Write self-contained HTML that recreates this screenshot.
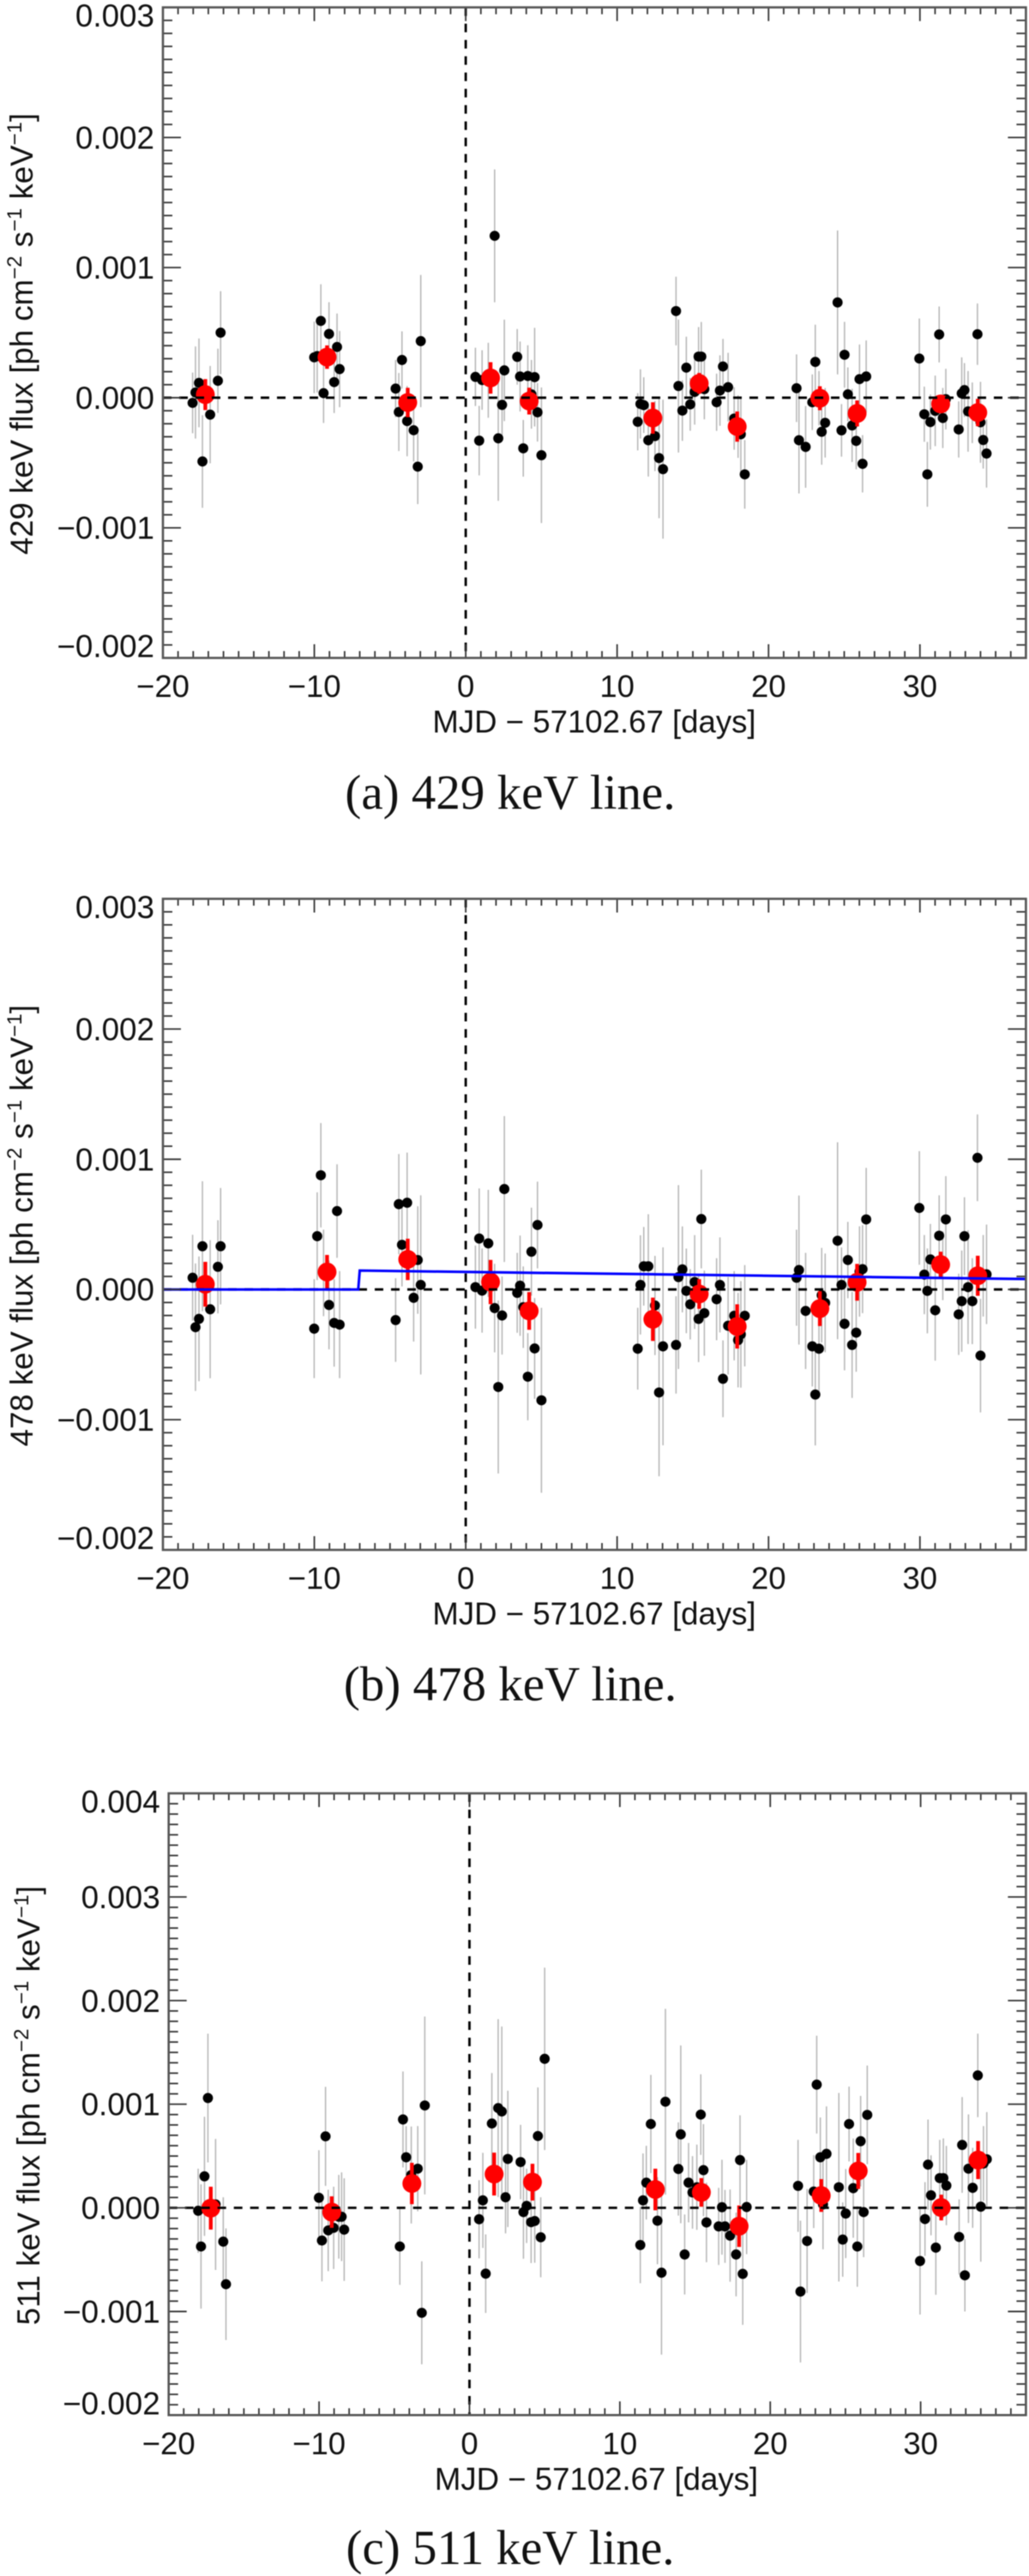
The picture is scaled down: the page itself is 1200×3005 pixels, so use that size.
<!DOCTYPE html>
<html lang="en">
<head>
<meta charset="utf-8">
<title>Gamma-ray line light curves</title>
<style>
html,body{margin:0;padding:0;background:#fff;}
svg{display:block;width:1200px;height:3005px;filter:blur(0.45px);}
text{font-family:"Liberation Sans",sans-serif;fill:#111;}
text.caption{font-family:"Liberation Serif",serif;}
</style>
</head>
<body>
<svg id="figure" xmlns="http://www.w3.org/2000/svg" width="1200" height="3005" viewBox="0 0 1200 3005"></svg>
<script>
// Observation times (days relative to MJD 57102.67), shared by all panels
const days = [
 -18.04,-17.85,-17.62,-17.39,-16.88,-16.37,-16.19,
 -10.01,-9.81,-9.57,-9.39,-9.03,-8.69,-8.50,-8.33,
 -4.63,-4.42,-4.21,-3.87,-3.44,-3.17,-2.97,
 0.64,0.89,1.08,1.49,1.91,2.15,2.40,2.55,3.40,3.59,3.80,4.10,4.34,4.55,4.74,5.00,
 11.36,11.54,11.76,12.06,12.50,12.77,13.03,13.89,14.05,14.31,14.57,14.83,15.12,15.38,15.56,15.76,16.57,16.79,16.99,17.33,17.73,17.99,18.17,18.43,
 21.85,22.01,22.45,22.89,23.09,23.33,23.51,23.74,24.56,24.82,25.02,25.24,25.52,25.79,26.01,26.21,26.45,
 29.96,30.29,30.49,30.69,31.01,31.27,31.51,31.71,32.56,32.76,32.94,33.18,33.46,33.80,34.00,34.18,34.40
];
// Flux values in units of 1e-3 ph cm^-2 s^-1 keV^-1
const flux429 = [
 -0.04,0.04,0.114,-0.49,-0.13,0.13,0.50,
 0.31,0.32,0.59,0.035,0.49,0.12,0.39,0.22,
 0.07,-0.11,0.29,-0.18,-0.25,-0.53,0.435,
 0.16,-0.33,0.136,0.134,1.244,-0.312,-0.055,0.21,0.314,0.163,-0.389,0.167,0.026,0.158,-0.112,-0.442,
 -0.185,-0.048,-0.057,-0.327,-0.295,-0.464,-0.549,0.666,0.09,-0.099,0.231,-0.051,0.044,0.316,0.316,0.066,-0.035,0.055,0.24,0.081,-0.16,-0.222,-0.281,-0.589,
 0.073,-0.327,-0.378,-0.035,0.275,-0.004,-0.262,-0.193,0.732,-0.251,0.33,0.026,-0.213,-0.332,0.143,-0.508,0.163,
 0.301,-0.127,-0.589,-0.187,-0.101,0.486,-0.156,-0.011,-0.244,0.033,0.059,-0.105,-0.116,0.488,-0.189,-0.325,-0.429
];
const err429 = [
 0.233,0.354,0.341,0.356,0.374,0.247,0.319,
 0.275,0.28,0.282,0.229,0.244,0.238,0.257,0.293,
 0.22,0.3,0.22,0.27,0.24,0.288,0.508,
 0.224,0.267,0.229,0.288,0.511,0.481,0.247,0.39,0.214,0.269,0.218,0.236,0.264,0.379,0.225,0.521,
 0.22,0.266,0.214,0.279,0.269,0.462,0.534,0.264,0.511,0.233,0.238,0.203,0.251,0.227,0.266,0.232,0.22,0.271,0.212,0.264,0.24,0.24,0.29,0.264,
 0.26,0.409,0.314,0.214,0.286,0.209,0.253,0.267,0.553,0.202,0.253,0.207,0.281,0.218,0.266,0.22,0.277,
 0.308,0.212,0.249,0.212,0.271,0.215,0.231,0.233,0.216,0.277,0.207,0.31,0.233,0.236,0.311,0.22,0.262
];
const flux478 = [
 0.09,-0.29,-0.226,0.332,-0.152,0.174,0.332,
 -0.301,0.409,0.877,0.127,-0.119,-0.257,0.602,-0.27,
 -0.235,0.655,0.343,0.666,-0.064,0.226,0.035,
 0.018,0.391,-0.009,0.354,-0.143,-0.749,-0.2,0.771,-0.026,0.029,-0.136,-0.67,0.29,-0.453,0.495,-0.851,
 -0.455,0.035,0.178,0.178,-0.123,-0.791,-0.437,-0.426,0.095,0.154,-0.011,-0.114,0.057,-0.226,0.541,-0.182,-0.075,0.035,-0.686,-0.279,-0.202,-0.389,-0.345,-0.202,
 0.09,0.149,-0.165,-0.437,-0.807,-0.455,-0.044,-0.103,0.374,0.035,-0.264,0.226,-0.426,-0.332,0.138,0.156,0.538,
 0.626,0.114,-0.011,0.231,-0.16,0.413,0.182,0.538,-0.191,-0.09,0.409,0.018,-0.09,1.011,-0.508,0.105,0.116
];
const err478 = [
 0.33,0.49,0.479,0.499,0.53,0.358,0.447,
 0.38,0.337,0.401,0.332,0.341,0.336,0.359,0.411,
 0.321,0.385,0.32,0.385,0.336,0.413,0.688,
 0.319,0.385,0.323,0.411,0.34,0.664,0.30,0.56,0.307,0.385,0.313,0.335,0.338,0.387,0.333,0.71,
 0.314,0.381,0.302,0.4,0.381,0.644,0.76,0.374,0.706,0.33,0.325,0.27,0.36,0.332,0.379,0.327,0.315,0.365,0.295,0.374,0.343,0.363,0.409,0.389,
 0.369,0.572,0.446,0.308,0.391,0.367,0.363,0.379,0.756,0.288,0.357,0.293,0.407,0.30,0.347,0.338,0.396,
 0.436,0.304,0.326,0.272,0.387,0.31,0.264,0.332,0.312,0.389,0.299,0.437,0.33,0.333,0.436,0.313,0.382
];
const flux511 = [
 -0.028,-0.373,0.304,1.06,0.033,-0.326,-0.737,
 0.097,-0.315,0.69,-0.218,-0.193,-0.086,-0.086,-0.21,
 -0.373,0.853,0.488,0.317,0.378,-1.013,0.988,
 -0.11,0.072,-0.635,0.814,0.963,0.93,0.102,0.472,0.442,-0.041,0.019,-0.138,-0.127,0.693,-0.284,1.438,
 -0.359,0.072,0.243,0.809,-0.124,-0.626,1.024,0.375,0.709,-0.45,0.243,0.149,0.199,0.9,0.364,-0.141,-0.179,0.006,-0.179,-0.268,-0.45,0.461,-0.637,0.008,
 0.212,-0.808,-0.32,0.157,1.189,0.488,0.033,0.521,0.199,-0.306,-0.055,0.809,0.19,-0.373,0.643,-0.041,0.897,
 -0.513,-0.108,0.417,0.121,-0.384,0.287,0.287,0.215,-0.281,0.607,-0.651,0.378,0.193,1.278,0.011,0.428,0.469
];
const err511 = [
 0.406,0.60,0.575,0.621,0.632,0.428,0.539,
 0.459,0.394,0.478,0.393,0.397,0.404,0.428,0.495,
 0.37,0.463,0.30,0.468,0.411,0.497,0.858,
 0.377,0.459,0.379,0.487,0.858,0.82,0.348,0.658,0.359,0.45,0.359,0.395,0.403,0.469,0.386,0.88,
 0.368,0.453,0.356,0.474,0.42,0.79,0.897,0.45,0.858,0.386,0.383,0.35,0.411,0.389,0.444,0.384,0.372,0.458,0.352,0.445,0.404,0.432,0.492,0.455,
 0.444,0.684,0.502,0.352,0.472,0.384,0.433,0.458,0.91,0.359,0.43,0.361,0.479,0.389,0.437,0.435,0.476,
 0.517,0.356,0.435,0.386,0.455,0.369,0.383,0.383,0.363,0.462,0.349,0.524,0.386,0.403,0.531,0.361,0.455
];
// Revolution-averaged (binned) points
const binDays = [-17.2,-9.16,-3.83,1.64,4.19,12.36,15.42,17.93,23.39,25.85,31.37,33.82];
const binFlux429 = [0.024,0.312,-0.037,0.152,-0.026,-0.156,0.11,-0.222,-0.004,-0.121,-0.048,-0.114];
const binErr429 = [0.119,0.09,0.113,0.121,0.103,0.121,0.08,0.116,0.092,0.10,0.07,0.105];
const binFlux478 = [0.04,0.134,0.231,0.057,-0.165,-0.229,-0.035,-0.284,-0.147,0.055,0.191,0.105];
const binErr478 = [0.172,0.131,0.159,0.17,0.145,0.166,0.114,0.17,0.134,0.141,0.099,0.154];
const binFlux511 = [-0.003,-0.041,0.235,0.326,0.248,0.177,0.149,-0.177,0.119,0.356,0.003,0.461];
const binErr511 = [0.207,0.152,0.2,0.207,0.177,0.201,0.138,0.2,0.158,0.174,0.124,0.184];
// Model curve on the 478 keV panel
const modelDays = [-20,-7.1,-7.0,37];
const modelFlux = [0,0,0.145,0.08];
// Axis ticks
const xTickValues = [-20,-10,0,10,20,30];
const xTickLabels = ["\u221220","\u221210","0","10","20","30"];
const yTickValuesAB = [-2,-1,0,1,2,3];
const yTickLabelsAB = ["\u22120.002","\u22120.001","0.000","0.001","0.002","0.003"];
const yTickValuesC = [-2,-1,0,1,2,3,4];
const yTickLabelsC = ["\u22120.002","\u22120.001","0.000","0.001","0.002","0.003","0.004"];

const NS = "http://www.w3.org/2000/svg";
const fig = document.getElementById("figure");
function mk(parent, tag, attrs, txt){
  const el = document.createElementNS(NS, tag);
  for (const k in attrs) el.setAttribute(k, attrs[k]);
  if (txt !== undefined) el.textContent = txt;
  parent.appendChild(el);
  return el;
}

function drawPanel(p){
  const xMin=-20, xMax=37;
  const sx = v => p.left + (v-xMin)*(p.right-p.left)/(xMax-xMin);
  const sy = v => p.bottom - (v-p.yMin)*(p.bottom-p.top)/(p.yMax-p.yMin);

  const g = mk(fig,"g",{});
  
  

  // error bars of individual points
  const errs = mk(g,"g",{stroke:"#b4b4b4","stroke-width":1.5});
  
  
  days.forEach((d,i)=>{
    const l = mk(errs,"line",{x1:sx(d),x2:sx(d),y1:sy(p.flux[i]+p.err[i]),y2:sy(p.flux[i]-p.err[i])});
    
    
  });
  // individual points
  const pts = mk(g,"g",{fill:"#000"});
  
  
  days.forEach((d,i)=>{
    const c = mk(pts,"circle",{cx:sx(d),cy:sy(p.flux[i]),r:5.9});
    
    
  });
  // binned points
  const bins = mk(g,"g",{});
  
  
  binDays.forEach((d,i)=>{
    const l = mk(bins,"line",{x1:sx(d),x2:sx(d),y1:sy(p.binFlux[i]+p.binErr[i]),y2:sy(p.binFlux[i]-p.binErr[i]),stroke:"#ff0000","stroke-width":4.4});
    
    
    const c = mk(bins,"circle",{cx:sx(d),cy:sy(p.binFlux[i]),r:11,fill:"#ff0000"});
    
    
  });
  // reference lines
  const h0 = mk(g,"line",{x1:p.left,x2:p.right,y1:sy(0),y2:sy(0),stroke:"#000","stroke-width":2.8,"stroke-dasharray":"10 9"});
  
  
  const v0 = mk(g,"line",{x1:sx(0),x2:sx(0),y1:p.top,y2:p.bottom,stroke:"#000","stroke-width":2.8,"stroke-dasharray":"10 9"});
  
  
  // model
  if (p.model){
    const pl = mk(g,"polyline",{points:modelDays.map((d,i)=>sx(d)+","+sy(modelFlux[i])).join(" "),fill:"none",stroke:"#0000ff","stroke-width":3});
    
    
  }

  // ticks
  const ticks = mk(g,"g",{stroke:"#333","stroke-width":1.8});
  
  
  for (let d=xMin; d<=xMax; d++){
    const len = d%10===0 ? 16 : 8;
    const a = mk(ticks,"line",{x1:sx(d),x2:sx(d),y1:p.bottom,y2:p.bottom-len});
    
    
    const b = mk(ticks,"line",{x1:sx(d),x2:sx(d),y1:p.top,y2:p.top+len});
    
    
  }
  const n = Math.round((p.yMax-p.yMin)*10);
  for (let k=0; k<=n; k++){
    const v = p.yMin + k/10;
    const len = k%10===0 ? 21 : 11;
    const a = mk(ticks,"line",{x1:p.left,x2:p.left+len,y1:sy(v),y2:sy(v)});
    
    
    const b = mk(ticks,"line",{x1:p.right,x2:p.right-len,y1:sy(v),y2:sy(v)});
    
    
  }
  // frame
  const frame = mk(g,"rect",{x:p.left,y:p.top,width:p.right-p.left,height:p.bottom-p.top,fill:"none",stroke:"#555","stroke-width":2.6});
  
  

  // tick labels
  xTickValues.forEach((v,i)=>{
    const t = mk(g,"text",{x:sx(v),y:p.bottom+45.5,"font-size":36.5,"text-anchor":"middle"},xTickLabels[i]);
    
    
  });
  p.yTicks.forEach((v,i)=>{
    const base = Math.max(p.top+22.5, Math.min(p.bottom-1, sy(v)+13));
    const t = mk(g,"text",{x:p.left-10,y:base,"font-size":36.8,"text-anchor":"end"},p.yLabels[i]);
    
    
  });
  // axis titles
  const xt = mk(g,"text",{x:p.xTitleX,y:p.bottom+87,"font-size":36.6,"text-anchor":"middle"},"MJD \u2212 57102.67 [days]");
  
  

  const cy = (p.top+p.bottom)/2 + 1.5;
  const yt = mk(g,"text",{transform:"translate("+p.yTitleX+" "+cy+") rotate(-90)","font-size":36.6,"text-anchor":"middle"});
  
  
  const parts = [[p.line+" keV flux [ph cm",0],["\u22122",1],[" s",0],["\u22121",1],[" keV",0],["\u22121",1],["]",0]];
  let up = false;
  parts.forEach(q=>{
    const sup = q[1]===1;
    const a = {};
    if (sup){ a["font-size"]=24; a.dy=-13; }
    else if (up){ a.dy=13; }
    mk(yt,"tspan",a,q[0]);
    up = sup;
  });
  // caption
  const cap = mk(g,"text",{x:595,y:p.captionY,"font-size":57,"text-anchor":"middle","class":"caption"},p.caption);
  
  
}

drawPanel({name:"line-429",line:"429",caption:"(a) 429 keV line.",left:190,right:1196.4,top:8.6,bottom:767.5,yMin:-2,yMax:3,
  flux:flux429,err:err429,binFlux:binFlux429,binErr:binErr429,yTicks:yTickValuesAB,yLabels:yTickLabelsAB,yTitleX:38,xTitleX:693,captionY:943.5,model:false});
drawPanel({name:"line-478",line:"478",caption:"(b) 478 keV line.",left:190,right:1196.4,top:1048.5,bottom:1808,yMin:-2,yMax:3,
  flux:flux478,err:err478,binFlux:binFlux478,binErr:binErr478,yTicks:yTickValuesAB,yLabels:yTickLabelsAB,yTitleX:38,xTitleX:693,captionY:1983.5,model:true});
drawPanel({name:"line-511",line:"511",caption:"(c) 511 keV line.",left:196.7,right:1196.4,top:2092,bottom:2817.3,yMin:-2,yMax:4,
  flux:flux511,err:err511,binFlux:binFlux511,binErr:binErr511,yTicks:yTickValuesC,yLabels:yTickLabelsC,yTitleX:46,xTitleX:695.5,captionY:2991,model:false});
</script>
</body>
</html>
